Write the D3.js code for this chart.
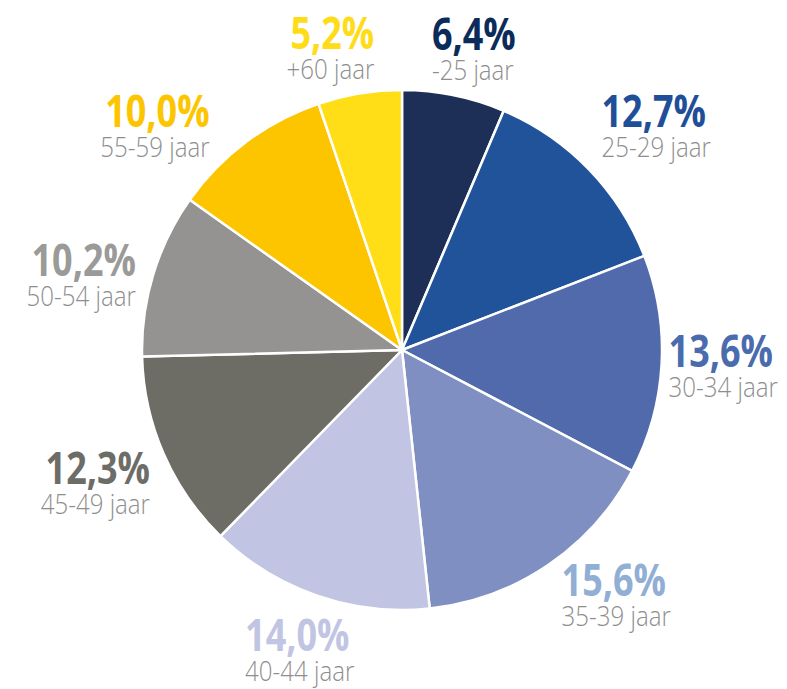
<!DOCTYPE html>
<html>
<head>
<meta charset="utf-8">
<script src="https://cdn.jsdelivr.net/npm/d3@7"></script>
<style>
  html, body { margin: 0; padding: 0; background: #fff; }
  svg { display: block; }
  .pct { font-family: "Open Sans", "Noto Sans", sans-serif; font-weight: 700; }
  .age { font-family: "Open Sans", "Noto Sans", sans-serif; font-weight: 300; fill: #8e8e8e; }
</style>
</head>
<body>
<div id="chart"></div>
<script>
// age groups, clockwise from 12 o'clock
const groups = ['-25 jaar', '25-29 jaar', '30-34 jaar', '35-39 jaar', '40-44 jaar',
                '45-49 jaar', '50-54 jaar', '55-59 jaar', '+60 jaar'];
const shares = [6.4, 12.7, 13.6, 15.6, 14.0, 12.3, 10.2, 10.0, 5.2];

const sliceColors = ['#1e2f57', '#21539a', '#506aab', '#7f8fc2', '#c1c4e2',
                     '#6d6d66', '#949391', '#fcc500', '#ffde17'];
const labelColors = ['#0b2b5a', '#1f4f99', '#4a6cae', '#91aed4', '#c1c5e3',
                     '#6d6d68', '#9a9a98', '#fcc500', '#fedc1a'];

// hand nudges for the labels (from an anchor just outside the pie)
const labelNudge = [
  { dx: -25, dy: -31, anchor: 'start' },
  { dx: 2, dy: -32, anchor: 'start' },
  { dx: -8, dy: 1, anchor: 'start' },
  { dx: 5, dy: 19, anchor: 'start' },
  { dx: -67, dy: 41, anchor: 'start' },
  { dx: 0, dy: 24, anchor: 'end' },
  { dx: -3, dy: 6, anchor: 'end' },
  { dx: -28, dy: -3, anchor: 'end' },
  { dx: 17, dy: -30, anchor: 'end' }
];

const width = 787, height = 689;
const cx = 402, cy = 350, radius = 260;

const svg = d3.select('#chart').append('svg')
  .attr('width', width)
  .attr('height', height);

const data = groups.map((g, i) => ({ group: g, value: shares[i], i }));

const pie = d3.pie()
  .sort(null)
  .value(d => d.value);

const arc = d3.arc()
  .innerRadius(0)
  .outerRadius(radius);

const arcs = pie(data);

const g = svg.append('g')
  .attr('transform', `translate(${cx},${cy})`);

g.selectAll('path')
  .data(arcs)
  .join('path')
  .attr('d', arc)
  .attr('fill', d => sliceColors[d.data.i])
  .attr('stroke', '#fff')
  .attr('stroke-width', 2.5)
  .attr('stroke-linejoin', 'round');

const fmt = v => d3.format('.1f')(v).replace('.', ',') + '%';
const labelR = 275;

const labels = g.selectAll('g.label')
  .data(arcs)
  .join('g')
  .attr('class', 'label')
  .attr('transform', d => {
    const a = (d.startAngle + d.endAngle) / 2;
    const n = labelNudge[d.data.i];
    const x = Math.sin(a) * labelR + n.dx;
    const y = -Math.cos(a) * labelR + n.dy;
    return `translate(${x},${y})`;
  });

labels.append('text')
  .attr('class', 'pct')
  .attr('transform', 'scale(0.8,1)')
  .attr('text-anchor', d => labelNudge[d.data.i].anchor)
  .attr('font-size', 45)
  .attr('fill', d => labelColors[d.data.i])
  .text(d => fmt(d.data.value));

labels.append('text')
  .attr('class', 'age')
  .attr('transform', 'translate(0,30) scale(0.86,1)')
  .attr('text-anchor', d => labelNudge[d.data.i].anchor)
  .attr('font-size', 28)
  .text(d => d.data.group);
</script>
</body>
</html>
